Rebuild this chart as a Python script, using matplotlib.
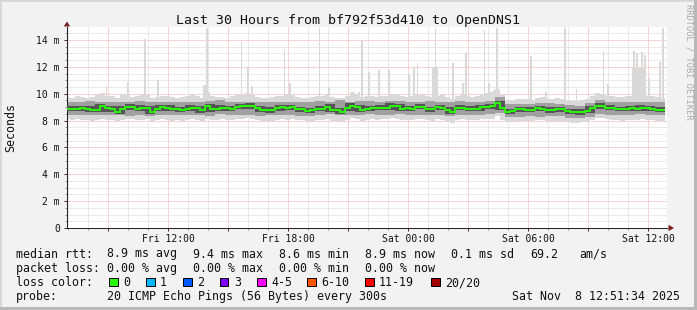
import numpy as np
import matplotlib
matplotlib.use('Agg')
import matplotlib.pyplot as plt
from matplotlib.patches import Rectangle, Polygon

W, H = 697, 310
plt.rcParams['font.family'] = ['DejaVu Sans Mono', 'DejaVu Sans']

title = "Last 30 Hours from bf792f53d410 to OpenDNS1"
y_label = "Seconds"
watermark = "RRDTOOL / TOBI OETIKER"

# time in hours after Fri 00:00; data starts Fri 06:51:34
t_start = 6.86
step_fine = 0.25     # 15-minute blocks
step_coarse = 0.5    # 30-minute blocks

# median RTT (ms), 15-min blocks
median = [8.85, 8.87, 8.90, 8.92, 8.90, 8.80, 8.82, 9.05, 8.92, 8.84,
          8.66, 8.90, 8.98, 9.02, 8.86, 8.97, 8.95, 8.65, 8.90, 8.98,
          8.96, 8.84, 8.86, 8.79, 8.90, 8.96, 8.91, 8.76, 9.08, 8.84,
          8.86, 8.96, 8.93, 8.86, 9.02, 9.08, 9.10, 9.06, 8.91, 8.80,
          8.78, 8.82, 8.91, 8.98, 8.96, 8.99, 8.84, 8.86, 8.74, 8.76,
          8.86, 8.88, 9.03, 8.80, 8.78, 8.66, 8.91, 9.11, 9.00, 8.82,
          8.90, 8.95, 8.93, 8.96, 8.94, 9.12, 9.06, 8.90, 8.92, 8.88,
          9.02, 9.00, 8.86, 8.84, 8.98, 8.97, 8.80, 8.64, 8.95, 8.97,
          8.90, 8.85, 8.87, 9.00, 9.03, 9.05, 9.30, 8.95, 8.66, 8.68,
          8.84, 8.83, 8.79, 8.80, 8.91, 8.90, 8.82, 8.78, 8.86, 8.84,
          8.70, 8.64, 8.63, 8.66, 8.72, 8.92, 9.10, 9.08, 8.96, 8.94,
          8.86, 8.85, 8.90, 8.93, 8.88, 8.96, 8.93, 8.90, 8.82, 8.80]

# outer smoke envelope (ms), 15-min blocks
smoke_hi = [9.75, 9.70, 9.80, 9.72, 9.65, 9.78, 9.90, 10.05, 9.85, 9.80,
            9.70, 9.95, 9.88, 9.75, 9.82, 10.00, 9.90, 9.70, 9.76, 9.85,
            9.80, 9.72, 9.68, 9.74, 9.80, 9.95, 9.85, 9.70, 10.10, 9.82,
            9.78, 9.75, 9.70, 9.80, 9.88, 9.92, 10.05, 9.90, 9.76, 9.70,
            9.65, 9.72, 9.80, 9.85, 10.00, 9.90, 9.78, 9.70, 9.68, 9.75,
            9.80, 9.82, 9.95, 9.74, 9.70, 9.66, 9.85, 10.10, 9.95, 9.78,
            9.80, 9.85, 9.78, 9.82, 9.80, 10.00, 9.95, 9.80, 9.78, 9.85,
            10.00, 9.90, 9.80, 9.76, 9.85, 9.90, 9.75, 9.62, 9.80, 9.88,
            9.82, 9.75, 9.80, 9.95, 10.05, 10.10, 10.35, 9.90, 9.55, 9.50,
            9.60, 9.62, 9.58, 9.55, 9.70, 9.72, 9.60, 9.58, 9.65, 9.62,
            9.55, 9.48, 9.45, 9.50, 9.60, 9.85, 10.05, 9.95, 9.85, 9.80,
            9.78, 9.75, 9.80, 9.85, 9.78, 9.90, 9.85, 9.82, 9.75, 9.70]
smoke_lo = [8.10, 8.05, 8.12, 8.08, 8.02, 8.00, 8.05, 8.15, 8.08, 8.04,
            7.95, 8.06, 8.10, 8.14, 8.02, 8.08, 8.10, 7.90, 8.04, 8.12,
            8.08, 8.00, 8.04, 7.98, 8.06, 8.10, 8.05, 7.95, 8.15, 8.02,
            8.04, 8.10, 8.08, 8.04, 8.12, 8.15, 8.18, 8.14, 8.06, 7.98,
            7.96, 8.00, 8.06, 8.10, 8.08, 8.12, 8.02, 8.04, 7.94, 7.96,
            8.04, 8.06, 8.12, 7.98, 7.96, 7.88, 8.06, 8.20, 8.10, 8.00,
            8.06, 8.10, 8.08, 8.12, 8.10, 8.20, 8.15, 8.05, 8.06, 8.02,
            8.14, 8.12, 8.02, 8.00, 8.10, 8.08, 7.98, 7.85, 8.06, 8.10,
            8.05, 8.02, 8.04, 8.12, 8.14, 8.15, 8.35, 8.08, 7.88, 7.90,
            7.98, 7.96, 7.94, 7.95, 8.02, 8.04, 7.96, 7.92, 8.00, 7.98,
            7.88, 7.85, 7.84, 7.86, 7.90, 8.05, 8.20, 8.18, 8.10, 8.08,
            8.02, 8.00, 8.06, 8.08, 8.04, 8.10, 8.08, 8.04, 7.98, 7.96]

# middle smoke band (ms), 30-min blocks
mid_hi = [9.35, 9.38, 9.45, 9.40, 9.42, 9.35, 9.40, 9.45, 9.38, 9.36,
          9.40, 9.42, 9.38, 9.36, 9.45, 9.50, 9.40, 9.36, 9.42, 9.38,
          9.36, 9.40, 9.42, 9.35, 9.38, 9.45, 9.42, 9.50, 9.42, 9.45,
          9.48, 9.42, 9.44, 9.45, 9.40, 9.38, 9.46, 9.38, 9.35, 9.45,
          9.40, 9.42, 9.48, 9.78, 9.20, 9.25, 9.22, 9.30, 9.28, 9.25,
          9.15, 9.12, 9.30, 9.50, 9.40, 9.38, 9.40, 9.42, 9.40, 9.35]
mid_lo = [8.40, 8.42, 8.45, 8.38, 8.44, 8.40, 8.36, 8.42, 8.36, 8.40,
          8.38, 8.42, 8.45, 8.40, 8.36, 8.48, 8.40, 8.38, 8.42, 8.35,
          8.38, 8.40, 8.42, 8.36, 8.34, 8.42, 8.48, 8.38, 8.40, 8.44,
          8.46, 8.42, 8.44, 8.46, 8.42, 8.40, 8.45, 8.40, 8.32, 8.40,
          8.42, 8.45, 8.50, 8.55, 8.25, 8.30, 8.32, 8.30, 8.34, 8.32,
          8.22, 8.20, 8.28, 8.50, 8.45, 8.42, 8.44, 8.46, 8.42, 8.38]

# dark core band (ms), 30-min blocks
core_hi = [9.05, 9.10, 9.08, 9.22, 9.10, 9.08, 9.20, 9.14, 9.12, 9.15,
           9.14, 9.04, 9.13, 9.08, 9.25, 9.14, 9.10, 9.26, 9.28, 9.08,
           9.00, 9.16, 9.16, 9.04, 8.94, 9.06, 9.20, 8.96, 9.28, 9.18,
           9.12, 9.14, 9.30, 9.24, 9.10, 9.20, 9.04, 9.15, 8.98, 9.15,
           9.08, 9.18, 9.22, 9.48, 8.86, 9.02, 8.98, 9.08, 9.00, 9.04,
           8.88, 8.84, 9.10, 9.28, 9.14, 9.04, 9.10, 9.14, 9.10, 9.00]
core_lo = [8.68, 8.72, 8.62, 8.65, 8.66, 8.50, 8.80, 8.70, 8.48, 8.72,
           8.68, 8.62, 8.72, 8.60, 8.66, 8.70, 8.68, 8.85, 8.88, 8.62,
           8.60, 8.74, 8.78, 8.66, 8.56, 8.70, 8.62, 8.50, 8.74, 8.64,
           8.72, 8.76, 8.76, 8.72, 8.70, 8.84, 8.66, 8.80, 8.46, 8.78,
           8.68, 8.70, 8.86, 8.78, 8.48, 8.66, 8.62, 8.72, 8.60, 8.66,
           8.46, 8.45, 8.55, 8.90, 8.76, 8.68, 8.72, 8.70, 8.72, 8.62]

# isolated max-ping spikes: time (h) and top (ms)
spike_t = [8.935, 10.0, 10.835, 11.5, 13.80, 13.875, 13.95, 15.685, 16.0, 16.2,
           17.835, 18.1, 19.575, 20.05, 21.55, 21.685, 22.035, 22.535, 23.035, 24.05,
           24.285, 24.485, 25.225, 25.30, 25.375, 25.45, 26.25, 26.75, 26.9, 27.835,
           28.035, 28.3, 28.375, 28.45, 28.525, 30.15, 30.885, 31.85, 32.435, 33.625,
           33.7, 33.775, 33.85, 34.0, 35.225, 35.3, 35.375, 35.45, 35.525, 35.6,
           35.7, 35.775, 35.85, 36.05, 36.6, 36.75]
spike_top = [10.57, 10.9, 14.07, 11.0, 10.65, 10.65, 14.9, 13.87, 12.0, 10.57,
             13.25, 10.8, 14.9, 10.5, 10.15, 14.0, 11.6, 11.76, 11.76, 11.4,
             12.0, 12.26, 12.0, 12.0, 14.9, 12.0, 12.26, 10.8, 13.0, 14.74,
             10.8, 10.27, 10.27, 14.9, 10.27, 12.83, 10.15, 14.9, 10.35, 10.0,
             10.0, 13.18, 10.0, 10.7, 11.93, 13.15, 11.93, 13.0, 11.93, 11.93,
             13.1, 11.93, 12.9, 11.2, 12.4, 14.9]

ytick_vals = [0, 2, 4, 6, 8, 10, 12, 14]
ytick_labels = ["0", "2 m", "4 m", "6 m", "8 m", "10 m", "12 m", "14 m"]
xtick_hours = [12, 18, 24, 30, 36]
xtick_labels = ["Fri 12:00", "Fri 18:00", "Sat 00:00", "Sat 06:00", "Sat 12:00"]

legend_rows = [
    [("median rtt:", 16), ("8.9 ms avg", 107), ("9.4 ms max", 193), ("8.6 ms min", 279),
     ("8.9 ms now", 365), ("0.1 ms sd", 451), ("69.2", 530), ("am/s", 579)],
    [("packet loss:", 16), ("0.00 % avg", 107), ("0.00 % max", 193), ("0.00 % min", 279),
     ("0.00 % now", 365)],
]
loss_labels = ["0", "1", "2", "3", "4-5", "6-10", "11-19", "20/20"]
loss_colors = ["#26ff00", "#00b8ff", "#0059ff", "#7e00ff", "#ff00ff", "#ff5500", "#ff0000", "#a10000"]
probe_text = "20 ICMP Echo Pings (56 Bytes) every 300s"
date_text = "Sat Nov  8 12:51:34 2025"

# ---------------------------------------------------------------
PX = 0.72  # points per pixel at dpi 100


def fx(x):
    return x / W


def fy(y):
    return 1 - y / H


def stepped(vals, step):
    t = t_start + step * np.arange(len(vals) + 1)
    v = np.append(np.asarray(vals, float), vals[-1])
    return t, v


fig = plt.figure(figsize=(W / 100, H / 100), dpi=100, facecolor='#f2f2f2')
ax = fig.add_axes([fx(67), fy(228), 600 / W, 201 / H])
ax.set_facecolor('white')
ax.set_xlim(6.95, 36.95)
ax.set_ylim(0, 14.97)
ax.set_axisbelow(True)

c_outer, c_mid, c_core = '#d9d9d9', '#a0a0a0', '#555555'
t1, hi1 = stepped(smoke_hi, step_fine)
_, lo1 = stepped(smoke_lo, step_fine)
ax.fill_between(t1, lo1, hi1, step='post', color=c_outer, lw=0, zorder=1)
ax.bar(spike_t, np.asarray(spike_top) - 9.5, bottom=9.5, width=0.08,
       color=c_outer, lw=0, zorder=1)
t2, hi2 = stepped(mid_hi, step_coarse)
_, lo2 = stepped(mid_lo, step_coarse)
ax.fill_between(t2, lo2, hi2, step='post', color=c_mid, lw=0, zorder=2)
_, hi3 = stepped(core_hi, step_coarse)
_, lo3 = stepped(core_lo, step_coarse)
ax.fill_between(t2, lo3, hi3, step='post', color=c_core, lw=0, zorder=3)
tm, vm = stepped(median, step_fine)
ax.step(tm, vm, where='post', color='#26ff00', lw=1.35, zorder=4,
        solid_capstyle='butt', solid_joinstyle='miter')

# ticks & grid
ax.set_yticks(ytick_vals)
ax.set_yticklabels(ytick_labels)
ax.set_yticks([v for v in np.arange(0.5, 15.0, 0.5) if v % 2 != 0], minor=True)
major_x = list(np.arange(9, 37, 3))
ax.set_xticks(major_x)
ax.set_xticklabels([xtick_labels[xtick_hours.index(h)] if h in xtick_hours else ''
                    for h in major_x])
ax.set_xticks([h for h in range(7, 37) if h % 3 != 0], minor=True)
ax.grid(which='major', color='#f4a8a8', ls=(0, (1, 1)), lw=PX)
ax.grid(which='minor', color='#d6d6d6', ls=(0, (1, 1)), lw=PX)
ax.tick_params(which='major', direction='out', length=3 * PX, width=PX, color='#333333',
               labelsize=7.06, labelcolor='#111111')
ax.tick_params(axis='y', which='major', pad=2.9)
ax.tick_params(axis='x', which='major', pad=2.4)
ax.tick_params(which='minor', direction='out', length=2 * PX, width=PX, color='#999999')
for s in ('top', 'right'):
    ax.spines[s].set_visible(False)
for s in ('left', 'bottom'):
    ax.spines[s].set_color('#222222')
    ax.spines[s].set_linewidth(PX)

# axis arrows
arrow_c = '#7a1f1f'
fig.patches.append(Polygon([(fx(63.8), fy(26.5)), (fx(70.2), fy(26.5)), (fx(67), fy(21.5))],
                           closed=True, transform=fig.transFigure, color=arrow_c, lw=0))
fig.patches.append(Polygon([(fx(668.5), fy(224.8)), (fx(668.5), fy(231.2)), (fx(674), fy(228))],
                           closed=True, transform=fig.transFigure, color=arrow_c, lw=0))

# frame
fig.patches.append(Rectangle((0, fy(2)), 1, 2 / H, transform=fig.transFigure, color='#d8d8d8', lw=0))
fig.patches.append(Rectangle((0, 0), 2 / W, 1, transform=fig.transFigure, color='#d8d8d8', lw=0))
fig.patches.append(Rectangle((0, 0), 1, 3 / H, transform=fig.transFigure, color='#b8b8b8', lw=0))
fig.patches.append(Rectangle((fx(694), 0), 3 / W, 1, transform=fig.transFigure, color='#b8b8b8', lw=0))

# texts
fig.text(fx(348), fy(24), title, ha='center', va='baseline', fontsize=9.55, color='#111111')
fig.text(fx(11), fy(127), y_label, ha='center', va='center', rotation=90, fontsize=8.4,
         color='#111111')
fig.text(fx(688.5), fy(4), watermark, ha='center', va='top', rotation=270, fontsize=6.2,
         color='#a8a8a8')

row_base = [257.5, 271.7, 286.0, 300.2]
lfs = 8.4
for r, row in enumerate(legend_rows):
    for txt, x in row:
        fig.text(fx(x), fy(row_base[r]), txt, ha='left', va='baseline', fontsize=lfs,
                 color='#111111')

fig.text(fx(16), fy(row_base[2]), "loss color:", ha='left', va='baseline', fontsize=lfs,
         color='#111111')
box_x = [109, 146, 183, 220, 257, 307, 365, 431]
for bx, lab, col in zip(box_x, loss_labels, loss_colors):
    fig.patches.append(Rectangle((fx(bx), fy(286)), 8.5 / W, 8.5 / H, transform=fig.transFigure,
                                 facecolor=col, edgecolor='black', lw=PX))
    fig.text(fx(bx + 14), fy(row_base[2]), lab, ha='left', va='baseline', fontsize=lfs,
             color='#111111')

fig.text(fx(16), fy(row_base[3]), "probe:", ha='left', va='baseline', fontsize=lfs, color='#111111')
fig.text(fx(107), fy(row_base[3]), probe_text, ha='left', va='baseline', fontsize=lfs,
         color='#111111')
fig.text(fx(680), fy(row_base[3]), date_text, ha='right', va='baseline', fontsize=lfs,
         color='#111111')

fig.savefig('out.png', dpi=100, facecolor=fig.get_facecolor())
